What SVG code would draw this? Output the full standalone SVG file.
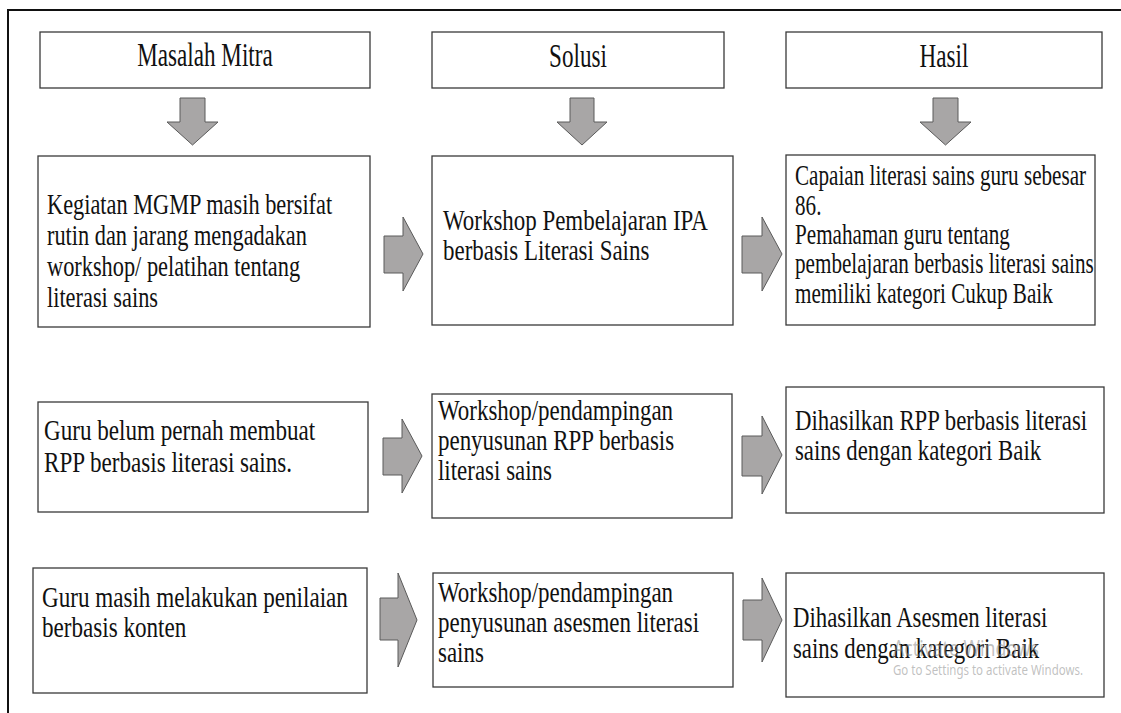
<svg xmlns="http://www.w3.org/2000/svg" width="1121" height="713" viewBox="0 0 1121 713">
<style>
.box{fill:#fff;stroke:#3a3a3a;stroke-width:1.3}
.arr{fill:#a8a6a6;stroke:#5a5a5a;stroke-width:1}
.hd{font-size:34px;fill:#111;text-anchor:middle}
.tx{font-size:30px;fill:#111}
.wm{fill:#8c8c8c;fill-opacity:0.55}
</style>
<rect width="1121" height="713" fill="#fff"/>
<path d="M8,713 V10 H1121" fill="none" stroke="#111" stroke-width="2"/>

<g font-family="Liberation Serif, Times New Roman, DejaVu Serif, serif">
<g id="h-masalah">
<rect class="box" x="40" y="32" width="330" height="56"/>
<text class="hd" transform="translate(205,66) scale(0.68,1)">Masalah Mitra</text>
</g>
<g id="h-solusi">
<rect class="box" x="432" y="32" width="292" height="56"/>
<text class="hd" transform="translate(578,67) scale(0.68,1)">Solusi</text>
</g>
<g id="h-hasil">
<rect class="box" x="786" y="32" width="316" height="56"/>
<text class="hd" transform="translate(944,67) scale(0.68,1)">Hasil</text>
</g>

<g id="m1">
<rect class="box" x="38" y="156" width="332" height="171"/>
<text class="tx" transform="translate(47,214) scale(0.745,1)">Kegiatan MGMP masih bersifat</text>
<text class="tx" transform="translate(47,245) scale(0.745,1)">rutin dan jarang mengadakan</text>
<text class="tx" transform="translate(47,276) scale(0.745,1)">workshop/ pelatihan tentang</text>
<text class="tx" transform="translate(47,307) scale(0.745,1)">literasi sains</text>
</g>
<g id="s1">
<rect class="box" x="432" y="156" width="301" height="169"/>
<text class="tx" transform="translate(443,230) scale(0.765,1)">Workshop Pembelajaran IPA</text>
<text class="tx" transform="translate(443,260) scale(0.765,1)">berbasis Literasi Sains</text>
</g>
<g id="r1">
<rect class="box" x="786" y="155" width="309" height="170"/>
<text class="tx" transform="translate(795,185) scale(0.705,1)">Capaian literasi sains guru sebesar</text>
<text class="tx" transform="translate(795,215) scale(0.705,1)">86.</text>
<text class="tx" transform="translate(795,244) scale(0.705,1)">Pemahaman guru tentang</text>
<text class="tx" transform="translate(795,273) scale(0.705,1)">pembelajaran berbasis literasi sains</text>
<text class="tx" transform="translate(795,303) scale(0.705,1)">memiliki kategori Cukup Baik</text>
</g>

<g id="m2">
<rect class="box" x="38" y="402" width="330" height="110"/>
<text class="tx" transform="translate(44,440) scale(0.77,1)">Guru belum pernah membuat</text>
<text class="tx" transform="translate(44,472) scale(0.77,1)">RPP berbasis literasi sains.</text>
</g>
<g id="s2">
<rect class="box" x="432" y="394" width="300" height="124"/>
<text class="tx" transform="translate(438,420) scale(0.765,1)">Workshop/pendampingan</text>
<text class="tx" transform="translate(438,450) scale(0.765,1)">penyusunan RPP berbasis</text>
<text class="tx" transform="translate(438,480) scale(0.765,1)">literasi sains</text>
</g>
<g id="r2">
<rect class="box" x="786" y="387" width="318" height="126"/>
<text class="tx" transform="translate(795,430) scale(0.76,1)">Dihasilkan RPP berbasis literasi</text>
<text class="tx" transform="translate(795,460) scale(0.76,1)">sains dengan kategori Baik</text>
</g>

<g id="m3">
<rect class="box" x="33" y="568" width="334" height="125"/>
<text class="tx" transform="translate(42,607) scale(0.77,1)">Guru masih melakukan penilaian</text>
<text class="tx" transform="translate(42,637) scale(0.77,1)">berbasis konten</text>
</g>
<g id="s3">
<rect class="box" x="433" y="573" width="300" height="114"/>
<text class="tx" transform="translate(438,602) scale(0.765,1)">Workshop/pendampingan</text>
<text class="tx" transform="translate(438,632) scale(0.765,1)">penyusunan asesmen literasi</text>
<text class="tx" transform="translate(438,662) scale(0.765,1)">sains</text>
</g>
<g id="r3">
<rect class="box" x="786" y="573" width="318" height="124"/>
<text class="tx" transform="translate(793,627) scale(0.76,1)">Dihasilkan Asesmen literasi</text>
<text class="tx" transform="translate(793,658) scale(0.76,1)">sains dengan kategori Baik</text>
</g>
</g>

<g id="connectors">
<path class="arr" d="M180,98 H205 V122 H218 L192.5,145 L167,122 H180 Z"/>
<path class="arr" d="M570,98 H594 V122 H607 L582,145 L557,122 H570 Z"/>
<path class="arr" d="M933,98 H958 V122 H971 L945.5,145 L920,122 H933 Z"/>
<path class="arr" d="M384,236 H403 V217 L423,254 L403,291 V273 H384 Z"/>
<path class="arr" d="M742,236 H762 V217 L782,254 L762,291 V273 H742 Z"/>
<path class="arr" d="M383,438 H402 V419 L422,456 L402,493 V475 H383 Z"/>
<path class="arr" d="M742,436 H762 V416 L782,455 L762,494 V476 H742 Z"/>
<path class="arr" d="M380,598 H398 V573 L417,620 L398,667 V640 H380 Z"/>
<path class="arr" d="M743,600 H762 V578 L782,620 L762,662 V640 H743 Z"/>
</g>

<g font-family="Noto Sans, Open Sans, sans-serif">
<text class="wm" x="893" y="656" font-size="22" textLength="146" lengthAdjust="spacingAndGlyphs">Activate Windows</text>
<text class="wm" x="893" y="675" font-size="14" textLength="190" lengthAdjust="spacingAndGlyphs">Go to Settings to activate Windows.</text>
</g>
</svg>
